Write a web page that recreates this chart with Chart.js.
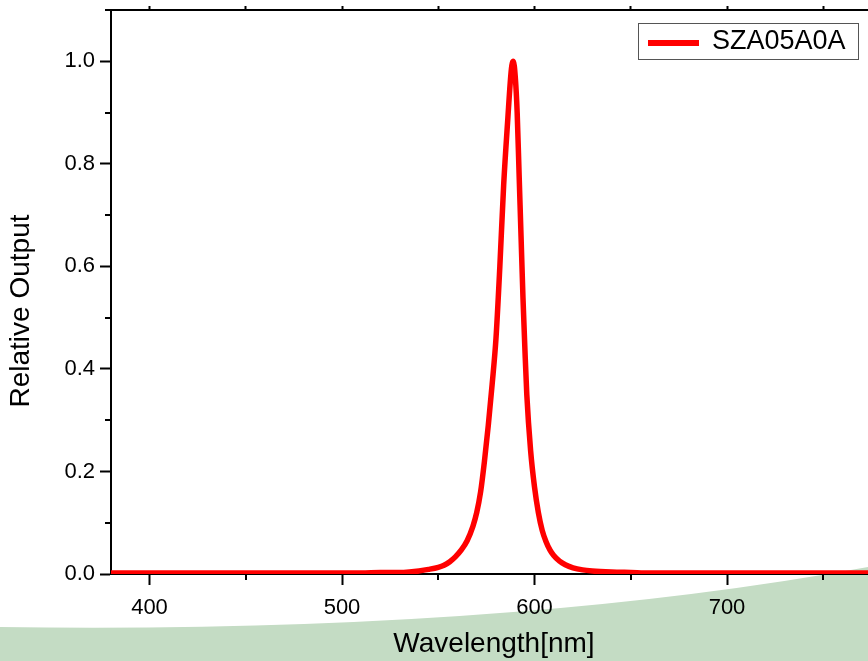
<!DOCTYPE html>
<html>
<head>
<meta charset="utf-8">
<script src="https://cdn.jsdelivr.net/npm/chart.js@4.4.0/dist/chart.umd.min.js"></script>
<style>
html, body { margin: 0; padding: 0; overflow: hidden; background: #fff; }
#wrap { position: relative; width: 900px; height: 661px; }
</style>
</head>
<body>
<div id="wrap"><canvas id="spec"></canvas></div>
<script>
// spectrum data
var wavelengths = [380, 390, 400, 410, 420, 430, 440, 450, 460, 470, 480, 490, 500, 510, 520, 530, 535, 540, 545, 550, 553, 556, 559, 562, 565, 568, 570, 572, 574, 576, 578, 580, 582, 584, 586, 588, 589, 590, 591, 592, 593, 594, 595, 596, 598, 600, 602, 604, 606, 608, 610, 613, 616, 620, 625, 630, 640, 650, 660, 680, 700, 720, 740, 760, 780]
var relOutput = [0.002, 0.002, 0.002, 0.002, 0.002, 0.002, 0.002, 0.002, 0.002, 0.002, 0.002, 0.002, 0.002, 0.002, 0.003, 0.003, 0.004, 0.006, 0.009, 0.013, 0.017, 0.024, 0.034, 0.047, 0.065, 0.093, 0.12, 0.16, 0.22, 0.29, 0.37, 0.46, 0.60, 0.76, 0.88, 0.985, 1.0, 0.97, 0.90, 0.78, 0.66, 0.54, 0.44, 0.35, 0.24, 0.17, 0.12, 0.085, 0.063, 0.047, 0.036, 0.025, 0.018, 0.012, 0.008, 0.006, 0.004, 0.003, 0.002, 0.002, 0.002, 0.002, 0.002, 0.002, 0.002]
var seriesName = 'SZA05A0A'

// axes
var xTicks = [400, 500, 600, 700]
var xMinor = [450, 550, 650, 750]
var yTicks = [0, 0.2, 0.4, 0.6, 0.8, 1.0]
var yMinor = [0.1, 0.3, 0.5, 0.7, 0.9]
var xTitle = 'Wavelength[nm]'
var yTitle = 'Relative Output'

var FONT = '"Liberation Sans", Arial, sans-serif'

var points = []
for (var i = 0; i < wavelengths.length; i++) {
	points.push({ x: wavelengths[i], y: relOutput[i] })
}

//background swoosh, minor ticks, titles, legend
var decor = {
	id: 'decor',
	beforeDraw: function (chart) {
		var c = chart.ctx, w = chart.width, h = chart.height
		c.save()
		c.fillStyle = '#ffffff'
		c.fillRect(0, 0, w, h)
		c.fillStyle = '#c4dcc4'
		c.beginPath()
		c.moveTo(0, 627)
		c.quadraticCurveTo(500, 634, 868, 567)
		c.lineTo(w, 560)
		c.lineTo(w, h)
		c.lineTo(0, h)
		c.closePath()
		c.fill()
		c.restore()
	},
	afterDraw: function (chart) {
		var c = chart.ctx
		var xs = chart.scales.x, ys = chart.scales.y
		var a = chart.chartArea
		c.save()
		c.strokeStyle = '#000'
		c.lineWidth = 2
		c.beginPath()
		xMinor.forEach(function (v) {
			var px = Math.round(xs.getPixelForValue(v))
			c.moveTo(px, a.bottom)
			c.lineTo(px, a.bottom + 6)
		})
		yMinor.forEach(function (v) {
			var py = Math.round(ys.getPixelForValue(v))
			c.moveTo(a.left - 6, py)
			c.lineTo(a.left, py)
		})
		// top frame reaches a little left of the y axis
		c.moveTo(a.left - 6, a.top)
		c.lineTo(a.left, a.top)
		c.stroke()

		// axis titles
		c.fillStyle = '#000'
		c.font = '28px ' + FONT
		c.textAlign = 'center'
		c.textBaseline = 'middle'
		c.fillText(xTitle, 494, 644)
		c.save()
		c.translate(21, 311)
		c.rotate(-Math.PI / 2)
		c.fillText(yTitle, 0, 0)
		c.restore()

		// legend
		var ds = chart.data.datasets[0]
		c.fillStyle = '#fff'
		c.fillRect(638, 23, 221, 37)
		c.strokeStyle = '#555'
		c.lineWidth = 1
		c.strokeRect(638.5, 23.5, 220, 36)
		c.strokeStyle = ds.borderColor
		c.lineWidth = 6
		c.beginPath()
		c.moveTo(648, 43)
		c.lineTo(699, 43)
		c.stroke()
		c.fillStyle = '#000'
		c.font = '27px ' + FONT
		c.textAlign = 'left'
		c.fillText(ds.label, 712, 42)
		c.restore()
	}
}

var myChart = new Chart(document.getElementById('spec'), {
	type: 'line',
	data: {
		datasets: [{
			label: seriesName,
			data: points,
			borderColor: '#ff0000',
			borderWidth: 5.5,
			pointRadius: 0,
			fill: false,
			cubicInterpolationMode: 'monotone'
		}]
	},
	options: {
		responsive: true,
		maintainAspectRatio: false,
		animation: false,
		layout: { padding: { left: 0, right: 19, top: 0, bottom: 0 } },
		plugins: { legend: { display: false }, tooltip: { enabled: false } },
		scales: {
			x: {
				type: 'linear',
				position: 'bottom',
				min: 380,
				max: 780,
				afterBuildTicks: function (s) { s.ticks = xTicks.map(function (v) { return { value: v } }) },
				afterFit: function (s) { s.height = 87; s.paddingLeft = 0; s.paddingRight = 0 },
				ticks: {
					color: '#000',
					padding: 10,
					maxRotation: 0,
					font: { size: 22, family: FONT },
					callback: function (v) { return v }
				},
				grid: { drawOnChartArea: false, drawTicks: true, tickLength: 11, tickColor: '#000', tickWidth: 2 },
				border: { display: true, color: '#000', width: 2 }
			},
			x2: {
				type: 'linear',
				position: 'top',
				min: 380,
				max: 780,
				afterBuildTicks: function (s) { s.ticks = xTicks.concat(xMinor).map(function (v) { return { value: v } }) },
				afterFit: function (s) { s.height = 10; s.paddingLeft = 0; s.paddingRight = 0 },
				ticks: { display: false },
				grid: { drawOnChartArea: false, drawTicks: true, tickLength: 4, tickColor: '#000', tickWidth: 2 },
				border: { display: true, color: '#000', width: 2 }
			},
			y: {
				type: 'linear',
				position: 'left',
				min: 0,
				max: 1.1,
				afterBuildTicks: function (s) { s.ticks = yTicks.map(function (v) { return { value: v } }) },
				afterFit: function (s) { s.width = 111; s.paddingTop = 0; s.paddingBottom = 0 },
				ticks: {
					color: '#000',
					padding: 5,
					font: { size: 22, family: FONT },
					callback: function (v) { return Number(v).toFixed(1) }
				},
				grid: { drawOnChartArea: false, drawTicks: true, tickLength: 11, tickColor: '#000', tickWidth: 2 },
				border: { display: true, color: '#000', width: 2 }
			}
		}
	},
	plugins: [decor]
})
</script>
</body>
</html>
